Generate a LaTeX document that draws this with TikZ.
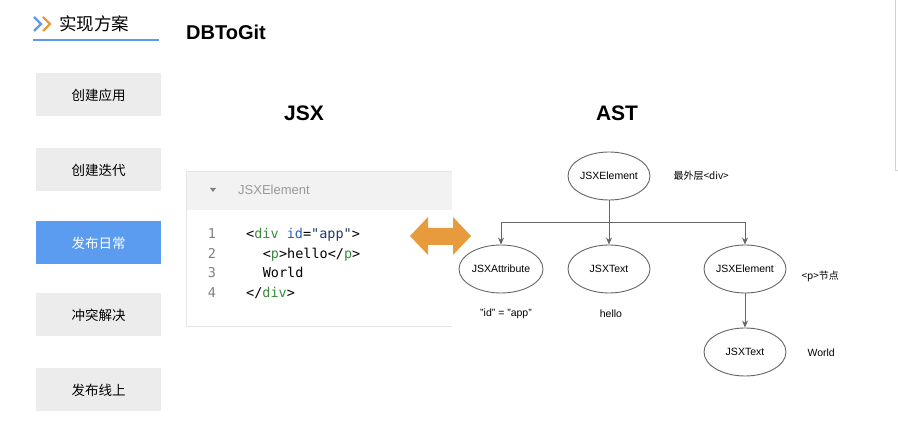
\documentclass[tikz,border=0pt]{standalone}
\usepackage{fontspec}
\setmainfont{Liberation Sans}
\setmonofont{DejaVu Sans Mono}
\newfontfamily\cjk{Noto Sans CJK SC}
\usetikzlibrary{shapes, arrows.meta, positioning, calc}

\definecolor{menugray}{HTML}{ECECEC}
\definecolor{menublue}{HTML}{5B9BF0}
\definecolor{swaporange}{HTML}{E89B3C}
\definecolor{linegray}{HTML}{666666}
\definecolor{codegreen}{HTML}{3A8A3A}
\definecolor{codeblue}{HTML}{2B5FB0}
\definecolor{codenavy}{HTML}{1F3A6E}

\begin{document}
\begin{tikzpicture}[x=1pt,y=-1pt,>={Stealth[length=7pt,width=6pt]},
        menu/.style={fill=menugray,minimum width=125pt,minimum height=43pt,
        inner sep=0pt,font=\cjk\fontsize{13.5}{16}\selectfont},
        astnode/.style={draw=linegray,line width=0.9pt,ellipse,inner sep=0pt,
        minimum width=82pt,minimum height=48pt,font=\fontsize{10.5}{12}\selectfont},
        note/.style={font=\fontsize{10.5}{12}\selectfont,anchor=west},
        lineno/.style={font=\ttfamily\fontsize{13.5}{16}\selectfont,text=gray,
        anchor=base,inner sep=0pt},
        code/.style={font=\ttfamily\fontsize{13.5}{16}\selectfont,anchor=base west,inner sep=0pt},
        edge/.style={draw=linegray,line width=1pt}]
      \useasboundingbox (0,0) rectangle (898,443);
      \fill[white] (0,0) rectangle (898,443);
      \draw[black!18,line width=0.8pt] (895,0) -- (895,170) -- (898,170);
      % heading
      \draw[menublue,line width=2.2pt] (34,17) -- (41,24) -- (34,31);
      \draw[swaporange,line width=2.2pt] (43,17) -- (50,24) -- (43,31);
      \node[anchor=west,font=\cjk\fontsize{17.5}{18}\selectfont,inner sep=0pt] (title) at (59,24) {实现方案};
      \draw[menublue,line width=1.5pt] (33,40) -- (159,40);
      \node[anchor=west,font=\bfseries\fontsize{20}{22}\selectfont,inner sep=0pt] (proj) at (186,32) {DBToGit};
      % menu
      \node[menu] (m1) at (98.5,95) {创建应用};
      \node[menu] (m2) at (98.5,170) {创建迭代};
      \node[menu,fill=menublue,text=white] (m3) at (98.5,243) {发布日常};
      \node[menu] (m4) at (98.5,315) {冲突解决};
      \node[menu] (m5) at (98.5,390) {发布线上};
      % headers
      \node[font=\bfseries\fontsize{21}{22}\selectfont] (jsx) at (304,113) {JSX};
      \node[font=\bfseries\fontsize{21}{22}\selectfont] (ast) at (617,113) {AST};
      % code panel
      \fill[black!5] (186,171) rectangle (452,210);
      \draw[black!10,line width=0.8pt] (452,326) -- (186,326) -- (186,171) -- (452,171);
      \fill[gray] (210,188) -- (216,188) -- (213,192) -- cycle;
      \node[anchor=west,text=black!40,font=\fontsize{13}{14}\selectfont,inner sep=0pt] (panel) at (238,190) {JSXElement};
      \node[lineno] (n1) at (212,239) {1};
      \node[lineno] (n2) at (212,259) {2};
      \node[lineno] (n3) at (212,278) {3};
      \node[lineno] (n4) at (212,298) {4};
      \node[code] (c1) at (246,239) {<\textcolor{codegreen}{div} \textcolor{codeblue}{id}=\textcolor{codenavy}{"app"}>};
      \node[code] (c2) at (262.6,259) {<\textcolor{codegreen}{p}>hello</\textcolor{codegreen}{p}>};
      \node[code] (c3) at (262.6,278) {World};
      \node[code] (c4) at (246,298) {</\textcolor{codegreen}{div}>};
      % swap arrow
      \fill[swaporange] (410,236) -- (428,217) -- (428,228) -- (453,228) -- (453,217)
        -- (471,236) -- (453,255) -- (453,245) -- (428,245) -- (428,255) -- cycle;
      % tree
      \node[astnode] (root) at (609,176) {JSXElement};
      \node[astnode,minimum width=84pt] (attr) at (501,269) {JSXAttribute};
      \node[astnode] (txt) at (609,269) {JSXText};
      \node[astnode] (elem) at (745,269) {JSXElement};
      \node[astnode] (world) at (745,352) {JSXText};
      \coordinate (split) at (609,223);
      \draw[edge] (root) -- (split);
      \draw[edge,->] (split) -| (attr);
      \draw[edge,->] (split) -- (txt);
      \draw[edge,->] (split) -| (elem);
      \draw[edge,->] (elem) -- (world);
      \node[note,font=\cjk\fontsize{10}{12}\selectfont] (rootnote) at (670,176) {最外层<div>};
      \node[note,font=\cjk\fontsize{10}{12}\selectfont] (elemnote) at (798,276) {<p>节点};
      \node[note,anchor=center] (attrnote) at (506,314) {"id" = "app"};
      \node[note,anchor=center] (txtnote) at (611,314) {hello};
      \node[note] (worldnote) at (804,353) {World};
    \end{tikzpicture}
\end{document}
